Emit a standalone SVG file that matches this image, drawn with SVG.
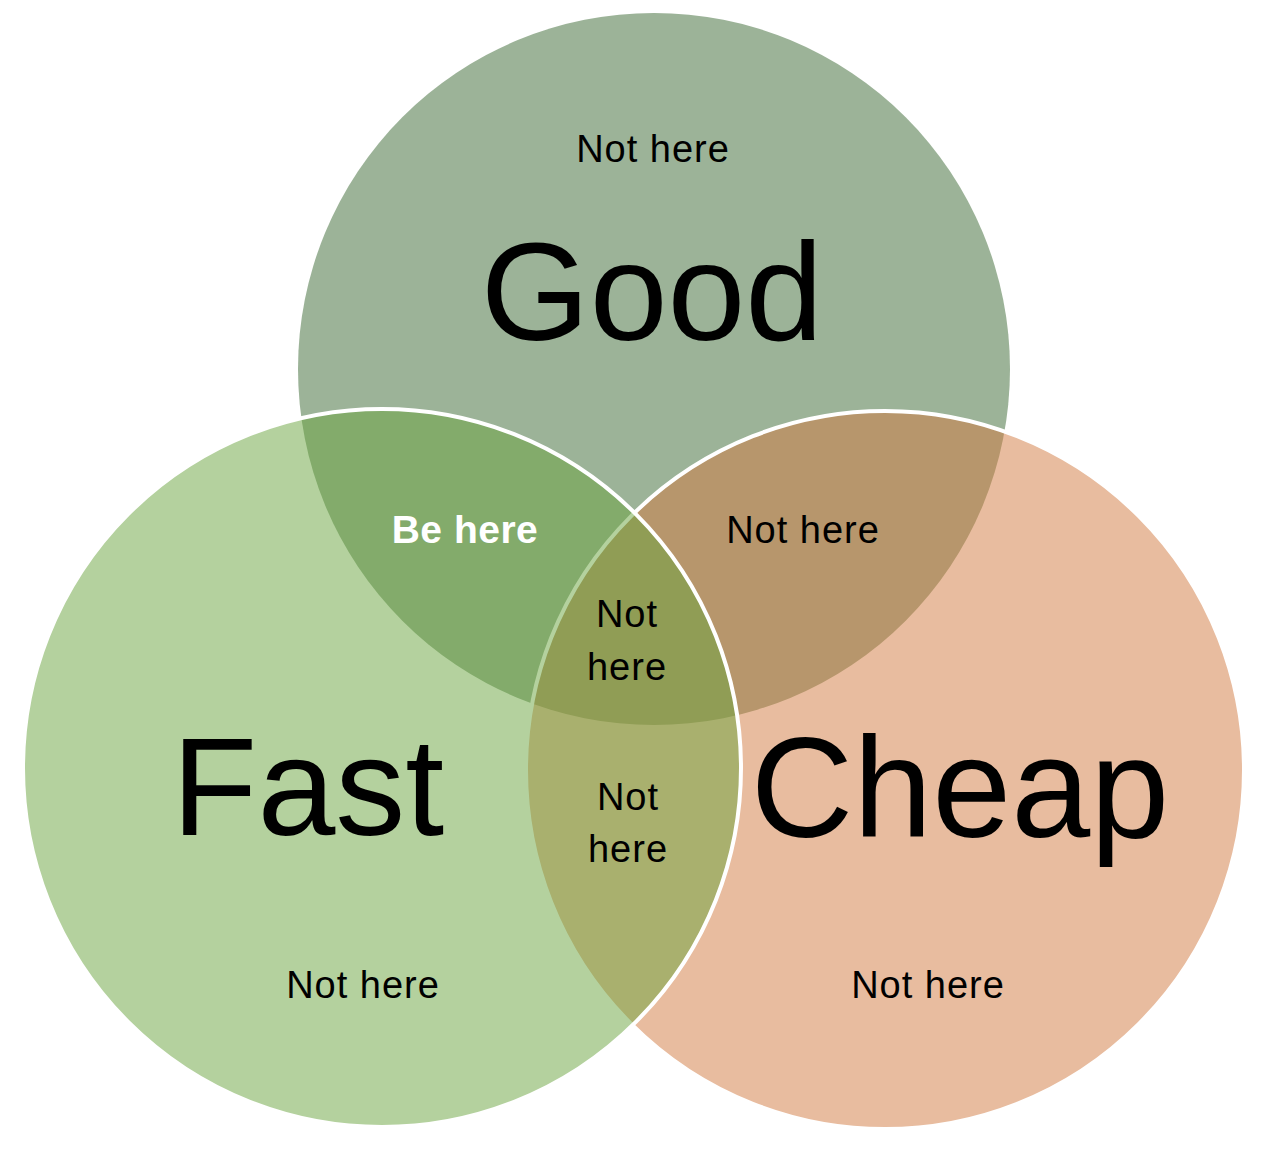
<svg xmlns="http://www.w3.org/2000/svg" width="1270" height="1164" viewBox="0 0 1270 1164">
<style>
.big{font-family:"Liberation Sans",Arial,Helvetica,sans-serif;font-size:140px;fill:#000;text-anchor:middle}
.lbl{font-family:"Liberation Sans",Arial,Helvetica,sans-serif;font-size:38px;fill:#000;text-anchor:middle;letter-spacing:1px}
.bold{font-weight:bold;fill:#fff;font-size:39px;letter-spacing:0.5px}
.ring{stroke:#fff;stroke-width:4}
</style>
<rect width="1270" height="1164" fill="#fff"/>
<g id="good">
<circle cx="654" cy="369" r="356" fill="#9CB398"/>
</g>
<g id="cheap">
<circle class="ring" cx="885" cy="770" r="359" fill="rgb(209,121,63)" fill-opacity="0.5"/>
</g>
<g id="fast">
<circle class="ring" cx="382" cy="768" r="359" fill="rgb(105,163,61)" fill-opacity="0.5"/>
</g>
<g id="connectors"></g>
<g id="labels">
<text class="lbl" x="653" y="162">Not here</text>
<text class="big" x="652" y="340">Good</text>
<text class="lbl bold" x="465" y="543">Be here</text>
<text class="lbl" x="803" y="543">Not here</text>
<text class="lbl" x="627" y="627">Not</text>
<text class="lbl" x="627" y="680">here</text>
<text class="lbl" x="628" y="810">Not</text>
<text class="lbl" x="628" y="862">here</text>
<text class="big" x="308" y="835">Fast</text>
<text class="big" x="960" y="837" style="font-size:142px">Cheap</text>
<text class="lbl" x="363" y="998">Not here</text>
<text class="lbl" x="928" y="998">Not here</text>
</g>
</svg>
